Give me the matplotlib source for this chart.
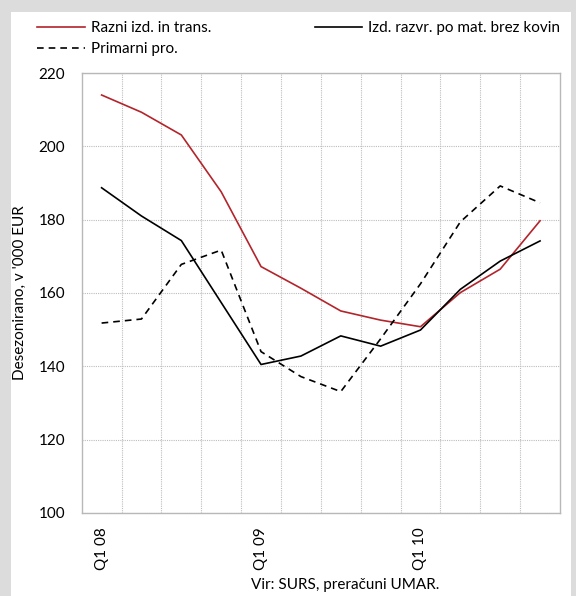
#!/usr/bin/env python3
import matplotlib
matplotlib.use("Agg")
import matplotlib.pyplot as plt
from matplotlib.ticker import MultipleLocator, FixedLocator
from matplotlib.patches import Rectangle

# quarterly values, Q1 08 .. Q4 10
quarters = ["Q1 08", "Q2 08", "Q3 08", "Q4 08",
            "Q1 09", "Q2 09", "Q3 09", "Q4 09",
            "Q1 10", "Q2 10", "Q3 10", "Q4 10"]
razni = [214.0, 209.3, 203.1, 187.6, 167.2, 161.3, 155.1, 152.6, 150.8, 160.1, 166.5, 179.7]
izd_razvr = [188.7, 181.0, 174.3, 157.4, 140.5, 142.8, 148.3, 145.5, 149.9, 161.0, 168.7, 174.2]
primarni = [151.8, 152.9, 167.8, 171.7, 144.0, 137.2, 133.1, 147.5, 162.5, 179.4, 189.2, 184.6]
label_every = 4

RED = "#b3242b"
GRID = "#bdbdbd"
FONT = "Lato"
FS = 11

plt.rcParams["font.family"] = [FONT, "DejaVu Sans"]
plt.rcParams["font.size"] = FS

fig = plt.figure(figsize=(5.76, 5.96), dpi=100)
fig.patch.set_facecolor("#dcdcdc")
# white panel inset into the grey frame
fig.patches.append(Rectangle((11 / 576, 0), 560 / 576, 1 - 12 / 596,
                             transform=fig.transFigure, facecolor="white",
                             edgecolor="none", zorder=-5))

ax = fig.add_axes([0.1418, 0.1393, 0.9722 - 0.1418, 0.8775 - 0.1393])
ax.set_facecolor("white")
ax.set_zorder(1)

x = list(range(len(quarters)))
l1, = ax.plot(x, razni, color=RED, lw=1.2, label="Razni izd. in trans.")
l2, = ax.plot(x, izd_razvr, color="black", lw=1.2, label="Izd. razvr. po mat. brez kovin")
l3, = ax.plot(x, primarni, color="black", lw=1.2, linestyle=(0, (4, 3)), label="Primarni pro.")

ax.set_xlim(-0.5, len(quarters) - 0.5)
ax.set_ylim(100, 220)
ax.yaxis.set_major_locator(MultipleLocator(20))

ticks = x[::label_every]
ax.xaxis.set_major_locator(FixedLocator(ticks))
ax.set_xticklabels([quarters[i] for i in ticks], rotation=90, va="top")
ax.xaxis.set_minor_locator(FixedLocator([i + 0.5 for i in x[:-1]]))
ax.tick_params(axis="both", which="both", length=0, labelsize=FS)
ax.tick_params(axis="y", pad=12)
ax.tick_params(axis="x", pad=10)

ax.grid(axis="y", which="major", color=GRID, linestyle=(0, (1, 1)), lw=0.8)
ax.grid(axis="x", which="minor", color=GRID, linestyle=(0, (1, 1)), lw=0.8)
ax.set_axisbelow(True)
for sp in ax.spines.values():
    sp.set_color("#b8b8b8")
    sp.set_linewidth(1.0)

ax.set_ylabel("Desezonirano, v '000 EUR", fontsize=FS, labelpad=8)

fig.legend(handles=[l1, l3, l2], ncol=2, loc="upper left",
           bbox_to_anchor=(0.054, 0.975), frameon=False, fontsize=FS,
           handlelength=3.1, handletextpad=0.4, columnspacing=6.8,
           labelspacing=0.45, borderaxespad=0)

fig.text(0.6, 0.007, "Vir: SURS, preračuni UMAR.", ha="center", va="bottom", fontsize=FS)

fig.savefig("out.png", dpi=100, facecolor=fig.get_facecolor())
